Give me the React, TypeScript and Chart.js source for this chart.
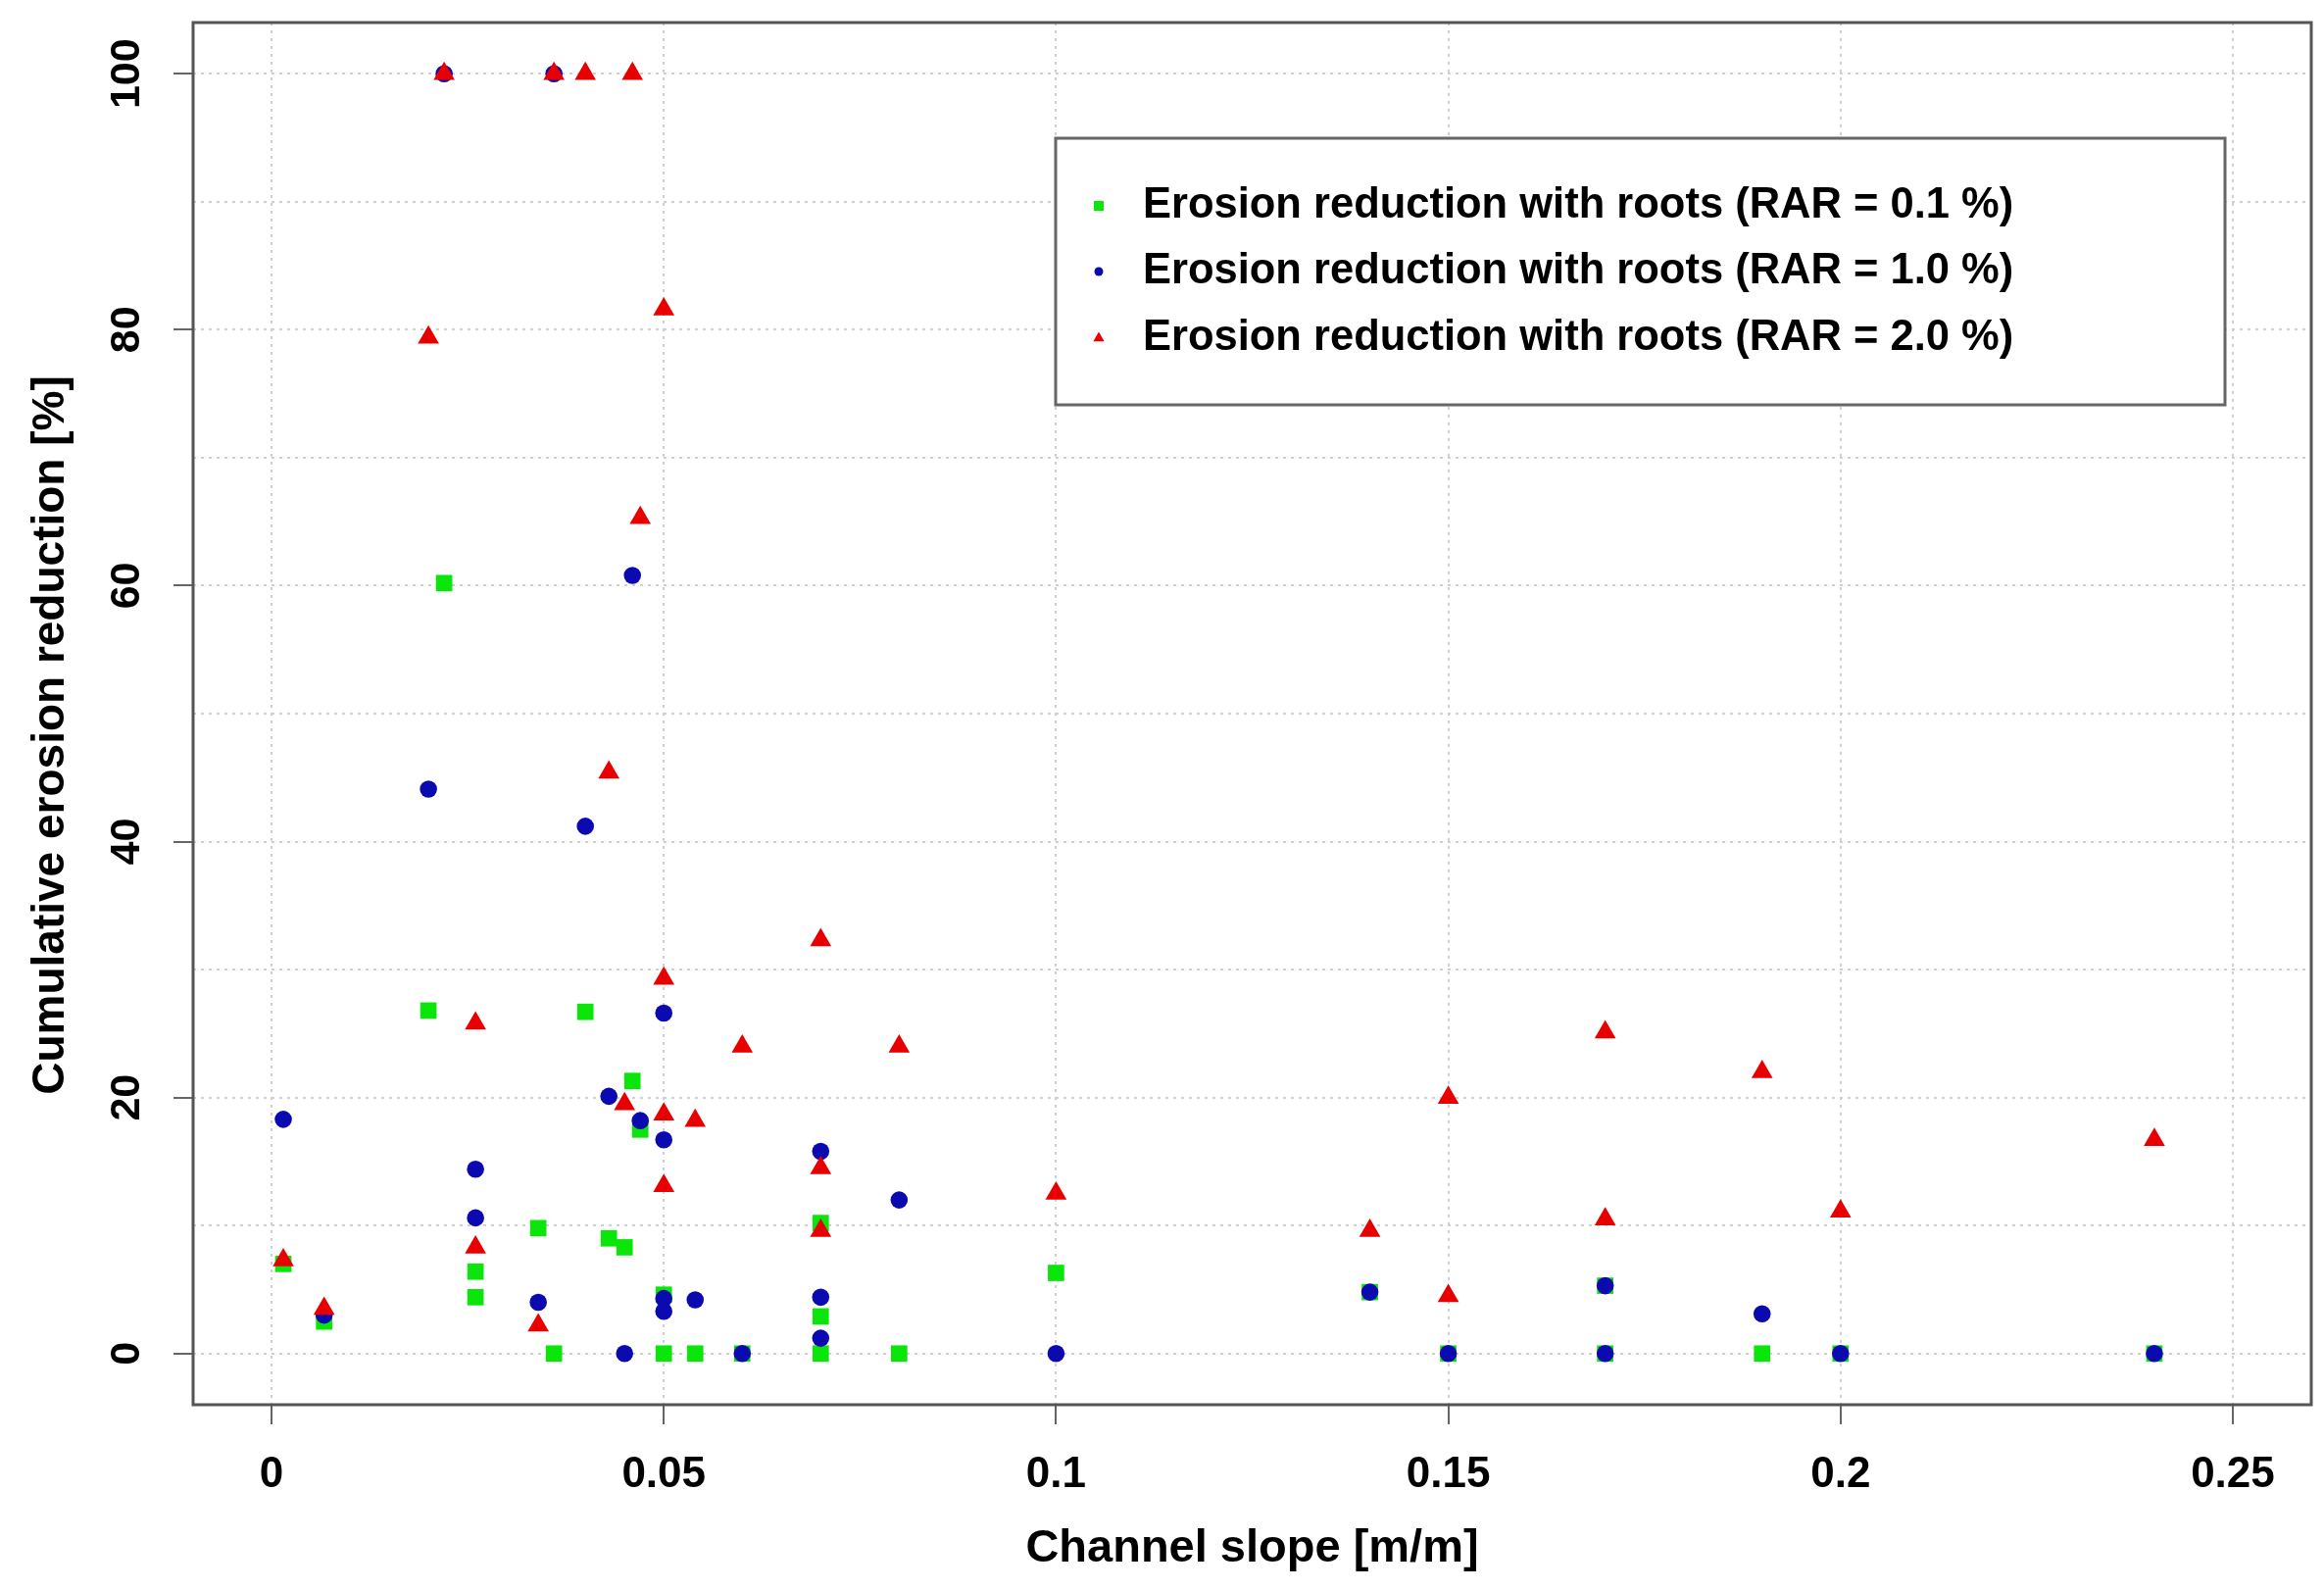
import { useEffect, useRef } from "react";
import { Chart, registerables } from "chart.js";

Chart.register(...registerables);

const FONT = '"Liberation Sans", Arial, Helvetica, sans-serif';

// channel slope [m/m] and cumulative erosion reduction [%], RAR = 0.1 %
const rar01Slope = [
  0.0015, 0.0067, 0.02, 0.022, 0.026, 0.026, 0.034, 0.036, 0.04, 0.043, 0.045,
  0.046, 0.047, 0.05, 0.05, 0.054, 0.06, 0.07, 0.07, 0.07, 0.08, 0.1, 0.14,
  0.15, 0.17, 0.17, 0.19, 0.2, 0.24,
];
const rar01Reduction = [
  7.0, 2.5, 26.8, 60.2, 6.4, 4.4, 9.8, 0, 26.7, 9.0, 8.3, 21.3, 17.5, 4.6, 0,
  0, 0, 10.2, 2.9, 0, 0, 6.3, 4.8, 0, 5.3, 0, 0, 0, 0,
];

// RAR = 1.0 %
const rar10Slope = [
  0.0015, 0.0067, 0.02, 0.022, 0.026, 0.026, 0.034, 0.036, 0.04, 0.043, 0.045,
  0.046, 0.047, 0.05, 0.05, 0.05, 0.05, 0.054, 0.06, 0.07, 0.07, 0.07, 0.08,
  0.1, 0.14, 0.15, 0.17, 0.17, 0.19, 0.2, 0.24,
];
const rar10Reduction = [
  18.3, 3.0, 44.1, 100, 14.4, 10.6, 4.0, 100, 41.2, 20.1, 0, 60.8, 18.2, 26.6,
  16.7, 4.3, 3.3, 4.2, 0, 15.8, 4.4, 1.2, 12.0, 0, 4.8, 0, 5.3, 0, 3.1, 0, 0,
];

// RAR = 2.0 %
const rar20Slope = [
  0.0015, 0.0067, 0.02, 0.022, 0.026, 0.026, 0.034, 0.036, 0.04, 0.043, 0.045,
  0.046, 0.047, 0.05, 0.05, 0.05, 0.05, 0.054, 0.06, 0.07, 0.07, 0.07, 0.08,
  0.1, 0.14, 0.15, 0.15, 0.17, 0.17, 0.19, 0.2, 0.24,
];
const rar20Reduction = [
  7.3, 3.5, 79.4, 100, 25.8, 8.3, 2.2, 100, 100, 45.4, 19.5, 100, 65.3, 81.6,
  29.3, 18.7, 13.1, 18.2, 24.0, 32.3, 14.5, 9.6, 24.0, 12.5, 9.6, 20.0, 4.5,
  25.1, 10.5, 22.0, 11.1, 16.7,
];

const seriesNames = [
  "Erosion reduction with roots (RAR = 0.1 %)",
  "Erosion reduction with roots (RAR = 1.0 %)",
  "Erosion reduction with roots (RAR = 2.0 %)",
];
const seriesColors = ["#0ae60a", "#0a0ab0", "#e80000"];

const xTickValues = [0, 0.05, 0.1, 0.15, 0.2, 0.25];
const xTickLabels = ["0", "0.05", "0.1", "0.15", "0.2", "0.25"];
const yGridValues = [0, 10, 20, 30, 40, 50, 60, 70, 80, 90, 100];
const yTickLabels = [0, 20, 40, 60, 80, 100];
const yTitle = "Cumulative erosion reduction [%]";

const toPoints = (xs: number[], ys: number[]) =>
  xs.map((x, i) => ({ x, y: ys[i] }));

// box, rotated y labels/title and the boxed legend, drawn the way R does them
const frame = {
  id: "rFrame",
  afterDraw(chart: Chart) {
    const { ctx, chartArea: a, scales } = chart;
    ctx.save();
    ctx.strokeStyle = "#555";
    ctx.lineWidth = 3;
    ctx.strokeRect(a.left, a.top, a.right - a.left, a.bottom - a.top);

    ctx.fillStyle = "#000";
    ctx.font = `bold 43px ${FONT}`;
    ctx.textAlign = "center";
    ctx.textBaseline = "middle";
    for (const v of yTickLabels) {
      const y = scales.y.getPixelForValue(v);
      ctx.save();
      ctx.translate(130, y);
      ctx.rotate(-Math.PI / 2);
      ctx.fillText(String(v), 0, 0);
      ctx.restore();
    }

    ctx.save();
    ctx.font = `bold 46px ${FONT}`;
    ctx.translate(52, (a.top + a.bottom) / 2 + 22);
    ctx.rotate(-Math.PI / 2);
    ctx.fillText(yTitle, 0, 0);
    ctx.restore();

    // legend
    const bx = a.left + 880;
    const by = a.top + 118;
    const bw = 1193;
    const bh = 272;
    ctx.fillStyle = "#fff";
    ctx.fillRect(bx, by, bw, bh);
    ctx.strokeStyle = "#666";
    ctx.lineWidth = 3;
    ctx.strokeRect(bx, by, bw, bh);

    const rows = [69, 136, 204];
    ctx.font = `bold 43.5px ${FONT}`;
    ctx.textAlign = "left";
    seriesNames.forEach((name, i) => {
      const mx = bx + 44;
      const my = by + rows[i];
      ctx.fillStyle = seriesColors[i];
      ctx.beginPath();
      if (i === 0) {
        ctx.rect(mx - 5, my - 5, 10, 10);
      } else if (i === 1) {
        ctx.arc(mx, my, 4.5, 0, Math.PI * 2);
      } else {
        ctx.moveTo(mx, my - 6.5);
        ctx.lineTo(mx + 5.6, my + 3.3);
        ctx.lineTo(mx - 5.6, my + 3.3);
        ctx.closePath();
      }
      ctx.fill();
      ctx.fillStyle = "#000";
      ctx.fillText(name, bx + 89, my);
    });
    ctx.restore();
  },
};

export default function App() {
  const chartRef = useRef<HTMLCanvasElement | null>(null);
  const chartInstanceRef = useRef<Chart | null>(null);

  useEffect(() => {
    const ctx = chartRef.current?.getContext("2d");
    if (!ctx) return;
    if (chartInstanceRef.current) chartInstanceRef.current.destroy();

    chartInstanceRef.current = new Chart(ctx, {
      type: "scatter",
      data: {
        datasets: [
          {
            label: seriesNames[0],
            data: toPoints(rar01Slope, rar01Reduction),
            pointStyle: "rect",
            pointRadius: 11.8,
            backgroundColor: seriesColors[0],
            borderWidth: 0,
            order: 3,
          },
          {
            label: seriesNames[1],
            data: toPoints(rar10Slope, rar10Reduction),
            pointStyle: "circle",
            pointRadius: 8.8,
            backgroundColor: seriesColors[1],
            borderWidth: 0,
            order: 2,
          },
          {
            label: seriesNames[2],
            data: toPoints(rar20Slope, rar20Reduction),
            pointStyle: "triangle",
            pointRadius: 12.5,
            backgroundColor: seriesColors[2],
            borderWidth: 0,
            order: 1,
          },
        ],
      },
      options: {
        responsive: true,
        maintainAspectRatio: false,
        animation: false,
        events: [],
        layout: { padding: { top: 23, right: 13, left: 0, bottom: 0 } },
        plugins: {
          legend: { display: false },
          tooltip: { enabled: false },
        },
        scales: {
          x: {
            type: "linear",
            min: -0.01,
            max: 0.26,
            afterBuildTicks: (s: any) => {
              s.ticks = xTickValues.map((value) => ({ value }));
            },
            afterFit: (s: any) => {
              s.height = 189;
            },
            ticks: {
              autoSkip: false,
              maxRotation: 0,
              padding: 25,
              color: "#000",
              font: { family: FONT, size: 44, weight: "bold" },
              callback: (_v: any, i: number) => xTickLabels[i],
            },
            grid: {
              color: "#cfcfcf",
              lineWidth: 2,
              tickLength: 20,
              tickColor: "#666",
              tickWidth: 2,
            },
            border: { display: false, dash: [3, 5] },
            title: {
              display: true,
              text: "Channel slope [m/m]",
              color: "#000",
              font: { family: FONT, size: 47, weight: "bold" },
              padding: { top: 0, bottom: 14 },
            },
          },
          y: {
            type: "linear",
            min: -4,
            max: 104,
            afterBuildTicks: (s: any) => {
              s.ticks = yGridValues.map((value) => ({ value }));
            },
            afterFit: (s: any) => {
              s.width = 197;
            },
            ticks: { display: false },
            grid: {
              color: "#cfcfcf",
              lineWidth: 2,
              tickLength: 20,
              tickWidth: 2,
              tickColor: (c: any) =>
                yTickLabels.includes(c.tick?.value) ? "#666" : "rgba(0,0,0,0)",
            },
            border: { display: false, dash: [3, 5] },
            title: { display: false },
          },
        },
      },
      plugins: [frame],
    });

    return () => {
      chartInstanceRef.current?.destroy();
      chartInstanceRef.current = null;
    };
  }, []);

  return (
    <div
      style={{
        position: "fixed",
        left: 0,
        top: 0,
        width: 2371,
        height: 1622,
        background: "#fff",
      }}
    >
      <canvas ref={chartRef} />
    </div>
  );
}
